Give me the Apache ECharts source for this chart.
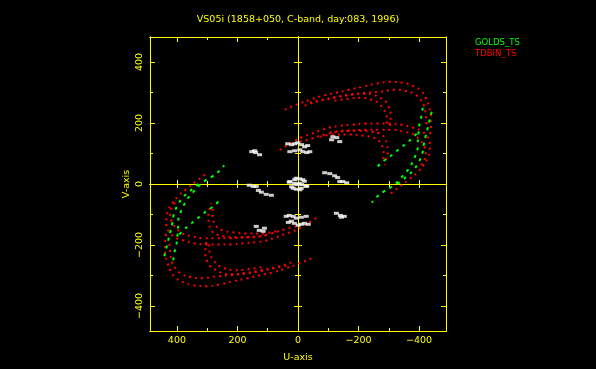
<!DOCTYPE html>
<html><head><meta charset="utf-8">
<script src="https://cdn.jsdelivr.net/npm/echarts@6/dist/echarts.min.js"></script>
<style>html,body{margin:0;padding:0;background:#000}#c{width:596px;height:369px}</style>
</head><body><div id="c"></div>
<script>
// ---------- data (U, V in units) ----------
const titleText = 'VS05i (1858+050, C-band, day:083, 1996)';
const majorTicks = [-400, -200, 0, 200, 400];
const minorTicks = [-300, -100, 100, 300];

// TDBIN_TS tracks (red), upper-right half
const redA1 = [[44,244],[-2,263],[-39,276],[-82,290],[-125,299],[-168,309],[-214,319],[-257,329],[-303,335],[-346,332],[-379,322],[-406,306],[-422,283],[-432,257],[-439,224],[-439,188],[-435,155]];
const redA2 = [[-22,257],[-72,273],[-121,283],[-171,293],[-221,299],[-270,303],[-320,309],[-353,306],[-383,296],[-402,280],[-416,257],[-422,227],[-425,194]];
const redB1 = [[-39,267],[-82,276],[-128,286],[-178,293],[-217,296],[-247,293],[-270,283],[-290,270],[-300,253],[-306,234],[-306,211],[-303,185]];
const redB2 = [[-121,273],[-171,280],[-211,283],[-244,276],[-263,267],[-280,250],[-290,231],[-293,211],[-293,188]];
const redC1 = [[60,112],[37,126],[11,142],[-16,155],[-45,165],[-72,175],[-105,185],[-138,191],[-178,194],[-221,198],[-263,198],[-303,198],[-343,194],[-379,185],[-406,175],[-425,158],[-435,135],[-435,109],[-429,86],[-416,63],[-396,40],[-369,17],[-336,-9],[-297,-38]];
const redC2 = [[-6,139],[-45,149],[-88,162],[-131,171],[-178,175],[-227,178],[-270,178],[-313,178],[-353,171],[-383,162],[-402,145],[-416,126],[-422,103],[-416,76],[-402,57]];
const redD1 = [[-105,168],[-154,175],[-204,175],[-244,171],[-270,165],[-287,152],[-293,132],[-297,109],[-293,86],[-287,63]];
const redD2 = [[-72,155],[-121,162],[-171,162],[-217,158],[-250,152],[-270,139],[-280,119],[-283,96],[-280,73]];
// TDBIN_TS tracks (red), lower-left half
const redA1c = [[-44,-244],[2,-263],[39,-276],[82,-290],[125,-299],[168,-309],[214,-319],[257,-329],[303,-335],[346,-332],[379,-322],[406,-306],[422,-283],[432,-257],[439,-224],[439,-188],[435,-155]];
const redA2c = [[22,-257],[72,-273],[121,-283],[171,-293],[221,-299],[270,-303],[320,-309],[353,-306],[383,-296],[402,-280],[416,-257],[422,-227],[425,-194]];
const redB1c = [[39,-267],[82,-276],[128,-286],[178,-293],[217,-296],[247,-293],[270,-283],[290,-270],[300,-253],[306,-234],[306,-211],[303,-185]];
const redB2c = [[121,-273],[171,-280],[211,-283],[244,-276],[263,-267],[280,-250],[290,-231],[293,-211],[293,-188]];
const redC1c = [[-60,-112],[-37,-126],[-11,-142],[16,-155],[45,-165],[72,-175],[105,-185],[138,-191],[178,-194],[221,-198],[263,-198],[303,-198],[343,-194],[379,-185],[406,-175],[425,-158],[435,-135],[435,-109],[429,-86],[416,-63],[396,-40],[369,-17],[336,9],[297,38]];
const redC2c = [[6,-139],[45,-149],[88,-162],[131,-171],[178,-175],[227,-178],[270,-178],[313,-178],[353,-171],[383,-162],[402,-145],[416,-126],[422,-103],[416,-76],[402,-57]];
const redD1c = [[105,-168],[154,-175],[204,-175],[244,-171],[270,-165],[287,-152],[293,-132],[297,-109],[293,-86],[287,-63]];
const redD2c = [[72,-155],[121,-162],[171,-162],[217,-158],[250,-152],[270,-139],[280,-119],[283,-96],[280,-73]];

// GOLDS_TS tracks (green)
const greenG1 = [[-442,237],[-435,211],[-429,185],[-422,158],[-416,132],[-412,106],[-406,86],[-396,67],[-383,47],[-366,30],[-346,14],[-326,-2]];
const greenG2 = [[-412,250],[-409,227],[-402,201],[-399,175],[-396,149],[-396,122],[-389,96],[-379,73],[-366,50],[-349,30],[-333,11],[-310,-9],[-283,-25],[-257,-45],[-244,-61]];
const greenG3 = [[-392,165],[-376,149],[-356,132],[-336,116],[-316,99],[-293,83],[-273,67],[-257,50]];
const greenG1c = [[442,-237],[435,-211],[429,-185],[422,-158],[416,-132],[412,-106],[406,-86],[396,-67],[383,-47],[366,-30],[346,-14],[326,2]];
const greenG2c = [[412,-250],[409,-227],[402,-201],[399,-175],[396,-149],[396,-122],[389,-96],[379,-73],[366,-50],[349,-30],[333,-11],[310,9],[283,25],[257,45],[244,61]];
const greenG3c = [[392,-165],[376,-149],[356,-132],[336,-116],[316,-99],[293,-83],[273,-67],[257,-50]];

// short baselines (white)
const whiteUpper = [[153,106],[140,103],[127,96],[143,109],[34,132],[21,129],[11,132],[1,135],[-12,129],[-22,122],[-32,126],[27,106],[11,109],[-6,112],[-16,106],[-29,103],[-39,106],[-88,37],[-105,34],[-121,27],[-131,21],[-138,8],[-148,8],[-161,4],[-115,155],[-128,152],[-138,139],[-111,145]];
const whiteLower = [[-153,-106],[-140,-103],[-127,-96],[-143,-109],[-34,-132],[-21,-129],[-11,-132],[-1,-135],[12,-129],[22,-122],[32,-126],[-27,-106],[-11,-109],[6,-112],[16,-106],[29,-103],[39,-106],[88,-37],[105,-34],[121,-27],[131,-21],[138,-8],[148,-8],[161,-4],[115,-155],[128,-152],[138,-139],[111,-145]];
const whiteCentre = [[27,8],[11,14],[-6,17],[-16,14],[21,-9],[4,-2],[-12,-2],[-29,-6],[-6,-19],[-27,-8],[-11,-14],[6,-17],[16,-14],[-21,9],[-4,2],[12,2],[29,6],[6,19]];

// ---------- chart ----------
const YEL = '#ffff00';
const FONT = 'DejaVu Sans';
const UMAX = 489, VMAX = 482;
const fmt = v => v < 0 ? '\u2212' + Math.abs(v) : String(v);

function mkX(pos, onZero, vals, len, label) {
  return {
    type: 'value', min: -UMAX, max: UMAX, inverse: true, position: pos,
    axisLine: { show: true, onZero: onZero, onZeroAxisIndex: 0, lineStyle: { color: YEL, width: 1 } },
    axisTick: { show: true, inside: true, length: len, customValues: vals, lineStyle: { color: YEL, width: 1 } },
    axisLabel: label ? { show: true, customValues: majorTicks, formatter: fmt, color: YEL, fontFamily: FONT, fontSize: 9.5, margin: 5 } : { show: false },
    splitLine: { show: false },
    name: label ? 'U-axis' : '', nameLocation: 'middle', nameGap: 22,
    nameTextStyle: { color: YEL, fontFamily: FONT, fontSize: 9.5 }
  };
}
function mkY(pos, onZero, vals, len, label) {
  return {
    type: 'value', min: -VMAX, max: VMAX, position: pos,
    axisLine: { show: true, onZero: onZero, onZeroAxisIndex: 0, lineStyle: { color: YEL, width: 1 } },
    axisTick: { show: true, inside: true, length: len, customValues: vals, lineStyle: { color: YEL, width: 1 } },
    axisLabel: label ? { show: true, customValues: majorTicks, formatter: fmt, rotate: 90, color: YEL, fontFamily: FONT, fontSize: 9.5, margin: 5 } : { show: false },
    splitLine: { show: false },
    name: label ? 'V-axis' : '', nameLocation: 'middle', nameGap: 18, nameRotate: 90,
    nameTextStyle: { color: YEL, fontFamily: FONT, fontSize: 9.5 }
  };
}

const xAxes = [
  mkX('bottom', false, majorTicks, 5, true),
  mkX('bottom', false, minorTicks, 3, false),
  mkX('top', false, majorTicks, 5, false),
  mkX('top', false, minorTicks, 3, false),
  mkX('bottom', true, majorTicks, 4, false),
  mkX('top', true, majorTicks, 4, false),
  mkX('bottom', true, minorTicks, 3, false),
  mkX('top', true, minorTicks, 3, false)
];
const yAxes = [
  mkY('left', false, majorTicks, 5, true),
  mkY('left', false, minorTicks, 3, false),
  mkY('right', false, majorTicks, 5, false),
  mkY('right', false, minorTicks, 3, false),
  mkY('left', true, majorTicks, 4, false),
  mkY('right', true, majorTicks, 4, false),
  mkY('left', true, minorTicks, 3, false),
  mkY('right', true, minorTicks, 3, false)
];

const redTracks = [redA1, redA2, redB1, redB2, redC1, redC2, redD1, redD2, redA1c, redA2c, redB1c, redB2c, redC1c, redC2c, redD1c, redD2c];
const greenTracks = [greenG1, greenG2, greenG3, greenG1c, greenG2c, greenG3c];

const series = [];
redTracks.forEach(d => series.push({
  type: 'line', name: 'TDBIN_TS', data: d, smooth: 0.4, showSymbol: false, symbol: 'none',
  lineStyle: { color: '#ff0000', width: 2, type: [2, 4] }, itemStyle: { color: '#ff0000' },
  silent: true, z: 2
}));
greenTracks.forEach(d => series.push({
  type: 'line', name: 'GOLDS_TS', data: d, smooth: 0.4, showSymbol: false, symbol: 'none',
  lineStyle: { color: '#00ff00', width: 2, type: [3, 5] }, itemStyle: { color: '#00ff00' },
  silent: true, z: 3
}));
[whiteUpper, whiteLower, whiteCentre].forEach(d => series.push({
  type: 'scatter', name: 'short', data: d, symbol: 'rect', symbolSize: [5, 3],
  itemStyle: { color: '#ffffff' }, silent: true, z: 4
}));

const chart = echarts.init(document.getElementById('c'), null, { renderer: 'canvas' });
chart.setOption({
  backgroundColor: '#000000',
  animation: false,
  title: { text: titleText, left: 'center', top: 10, textStyle: { color: YEL, fontFamily: FONT, fontSize: 9.5, fontWeight: 'normal' } },
  legend: {
    orient: 'vertical', left: 465, top: 33, itemGap: 2, itemWidth: 0, itemHeight: 0, icon: 'rect',
    selectedMode: false,
    data: [
      { name: 'GOLDS_TS', textStyle: { color: '#00ff00' } },
      { name: 'TDBIN_TS', textStyle: { color: '#ff0000' } }
    ],
    textStyle: { fontFamily: FONT, fontSize: 8.5 }
  },
  grid: { left: 150, top: 37, width: 296, height: 294, outerBoundsMode: 'none', containLabel: false },
  xAxis: xAxes,
  yAxis: yAxes,
  series: series
});
</script></body></html>
